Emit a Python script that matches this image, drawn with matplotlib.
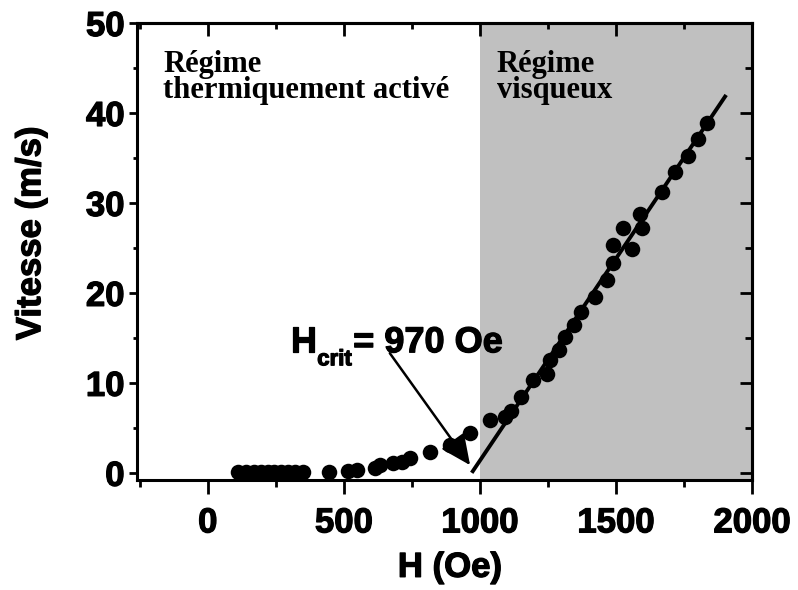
import matplotlib
matplotlib.use("Agg")
import matplotlib.pyplot as plt
import matplotlib.patheffects as pe
from matplotlib.ticker import MultipleLocator
from matplotlib.transforms import offset_copy

# Measured domain-wall velocity vs applied field
field_oe = [110, 140, 170, 195, 220, 245, 270, 295, 320, 350,
            446, 517, 548, 615, 634, 682, 713, 744, 817, 891, 964,
            1038, 1093, 1114, 1152, 1197, 1246, 1258, 1292, 1311, 1347,
            1372, 1423, 1466, 1488, 1488, 1527, 1558, 1595, 1589, 1668,
            1717, 1766, 1803, 1834]
velocity_ms = [0.1, 0.1, 0.1, 0.1, 0.1, 0.1, 0.1, 0.1, 0.1, 0.1,
               0.1, 0.2, 0.3, 0.5, 0.85, 1.05, 1.2, 1.6, 2.3, 3.1, 4.4,
               5.9, 6.2, 6.9, 8.4, 10.3, 11.0, 12.5, 13.7, 15.1, 16.4,
               17.9, 19.5, 21.4, 23.3, 25.3, 27.2, 24.9, 27.2, 28.8, 31.2,
               33.4, 35.2, 37.1, 38.9]

# Linear fit in the viscous regime
fit_field = [970, 1905]
fit_velocity = [0.0, 42.0]
h_crit = 970

regime_boundary = [1000, 2000]
x_ticks = [0, 500, 1000, 1500, 2000]
y_ticks = [0, 10, 20, 30, 40, 50]

plt.rcParams['font.family'] = ['Liberation Sans', 'DejaVu Sans']
plt.rcParams['font.weight'] = 'bold'

heavy = [pe.withStroke(linewidth=0.9, foreground='black')]

fig = plt.figure(figsize=(7.98, 5.90), dpi=100)
ax = fig.add_axes([137/798, 110/590, 615/798, 457/590])

ax.axvspan(regime_boundary[0], regime_boundary[1], color='#c0c0c0', lw=0, zorder=0)

ax.plot(fit_field, fit_velocity, color='black', lw=2.8, zorder=2,
        solid_capstyle='butt')
ax.scatter(field_oe, velocity_ms, s=125, color='black', zorder=3, lw=0)

ax.set_xlim(-260, 2000)
ax.set_ylim(-0.8, 50)
ax.set_xticks(x_ticks)
ax.set_yticks(y_ticks)
ax.xaxis.set_minor_locator(MultipleLocator(250))
ax.yaxis.set_minor_locator(MultipleLocator(5))

for sp in ax.spines.values():
    sp.set_linewidth(2.2)

ax.tick_params(axis='x', which='major', direction='out', length=10, width=2,
               labelsize=25, pad=9)
ax.tick_params(axis='x', which='minor', direction='out', length=5, width=2)
ax.tick_params(axis='y', which='major', direction='out', length=6, width=2,
               labelsize=25, pad=3)
ax.tick_params(axis='y', which='minor', direction='out', length=3, width=2)
for lab in ax.get_xticklabels() + ax.get_yticklabels():
    lab.set_fontweight('bold')
    lab.set_path_effects(heavy)

# Inward ticks on the top and right frame
top = ax.secondary_xaxis('top')
top.set_xticks(x_ticks)
top.xaxis.set_minor_locator(MultipleLocator(250))
top.tick_params(which='major', direction='in', length=9, width=2, labeltop=False)
top.tick_params(which='minor', direction='in', length=4, width=2)
top.spines['top'].set_linewidth(2.2)
right = ax.secondary_yaxis('right')
right.set_yticks(y_ticks)
right.yaxis.set_minor_locator(MultipleLocator(5))
right.tick_params(which='major', direction='in', length=9, width=2, labelright=False)
right.tick_params(which='minor', direction='in', length=5, width=2)
right.spines['right'].set_linewidth(2.2)

xl = ax.set_xlabel('H (Oe)', fontsize=25, fontweight='bold', va='top')
ax.xaxis.set_label_coords(0.509, -0.155)
yl = ax.set_ylabel('Vitesse (m/s)', fontsize=25, fontweight='bold')
ax.yaxis.set_label_coords(-0.146, 0.54)
xl.set_path_effects(heavy)
yl.set_path_effects(heavy)

serif = ['Liberation Serif', 'DejaVu Serif']
for x0, label in [(0.043, 'Régime\nthermiquement activé'),
                  (0.585, 'Régime\nvisqueux')]:
    ax.text(x0, 0.94, label, transform=ax.transAxes,
            family=serif, fontsize=22, fontweight='bold', va='top', ha='left',
            linespacing=0.86)

# Critical field label: H, subscript, then value
anchor = (303, 13.4)
ax.text(*anchor, 'H', fontsize=26, fontweight='bold', ha='left',
        va='baseline', path_effects=heavy)
ax.text(*anchor, 'crit', fontsize=16, fontweight='bold', ha='left',
        va='baseline', path_effects=heavy,
        transform=offset_copy(ax.transData, fig=fig, x=27, y=-13, units='dots'))
ax.text(*anchor, '= %d Oe' % h_crit, fontsize=26, fontweight='bold',
        ha='left', va='baseline', path_effects=heavy,
        transform=offset_copy(ax.transData, fig=fig, x=63, y=0, units='dots'))

ax.annotate('', xy=(964, 0.85), xytext=(669, 13.3),
            arrowprops=dict(arrowstyle='-|>,head_length=0.93,head_width=0.43',
                            mutation_scale=20, color='black', lw=1.8,
                            shrinkA=0, shrinkB=0))

fig.savefig('out.png', dpi=100)
